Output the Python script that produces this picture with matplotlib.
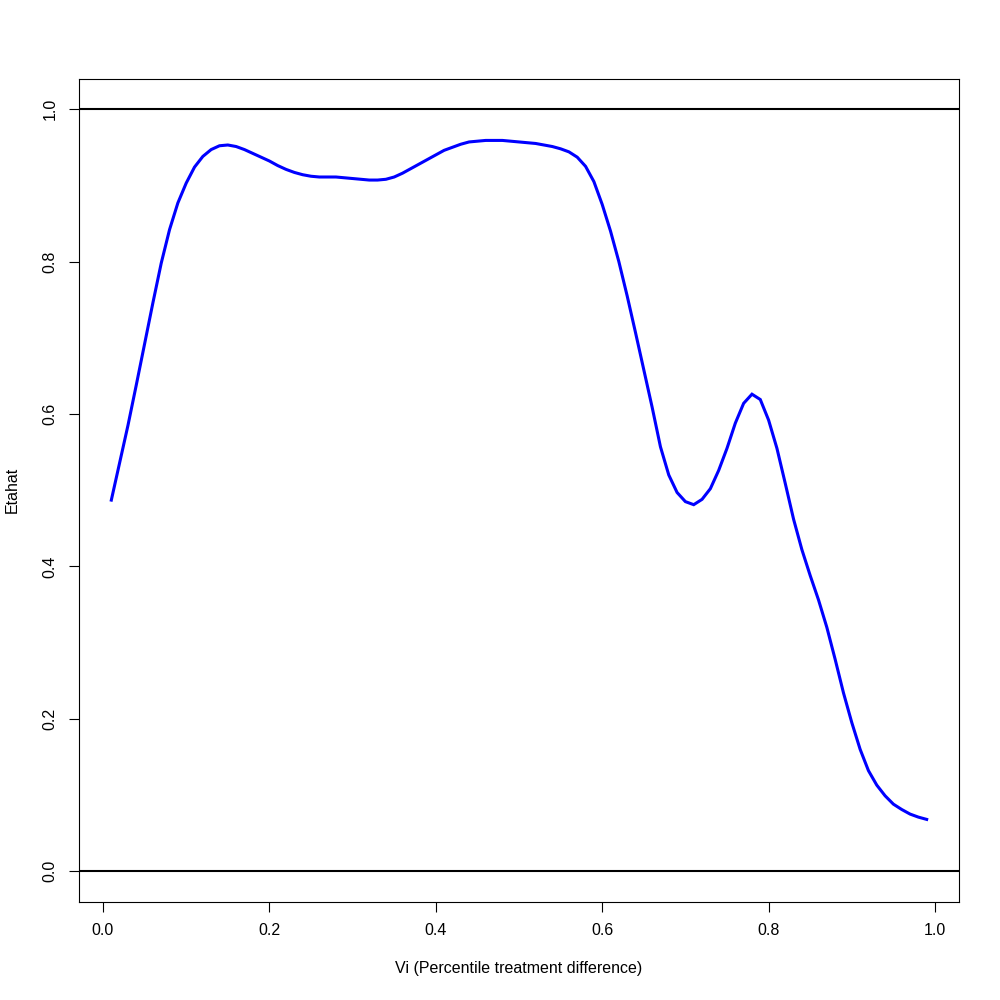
import numpy as np
import matplotlib
matplotlib.use("Agg")
import matplotlib.pyplot as plt

plt.rcParams["font.family"] = ["Liberation Sans", "DejaVu Sans"]

# percentile grid 0.01 .. 0.99
vi = np.arange(1, 100) / 100

etahat = [
    0.487, 0.536, 0.585, 0.638, 0.692, 0.746, 0.798, 0.842, 0.877, 0.903,
    0.924, 0.938, 0.947, 0.952, 0.953, 0.951, 0.947, 0.942, 0.937, 0.932,
    0.926, 0.921, 0.917, 0.914, 0.912, 0.911, 0.911, 0.911, 0.910, 0.909,
    0.908, 0.907, 0.907, 0.908, 0.911, 0.916, 0.922, 0.928, 0.934, 0.940,
    0.946, 0.950, 0.954, 0.957, 0.958, 0.959, 0.959, 0.959, 0.958, 0.957,
    0.956, 0.955, 0.953, 0.951, 0.948, 0.944, 0.937, 0.925, 0.905, 0.875,
    0.840, 0.800, 0.755, 0.707, 0.658, 0.609, 0.557, 0.520, 0.497, 0.485,
    0.481, 0.488, 0.502, 0.526, 0.555, 0.588, 0.614, 0.626, 0.619, 0.592,
    0.555, 0.509, 0.462, 0.422, 0.388, 0.356, 0.320, 0.278, 0.234, 0.195,
    0.160, 0.132, 0.113, 0.099, 0.088, 0.081, 0.075, 0.071, 0.068,
]

xticks = [0.0, 0.2, 0.4, 0.6, 0.8, 1.0]
yticks = [0.0, 0.2, 0.4, 0.6, 0.8, 1.0]

fig = plt.figure(figsize=(10, 10), dpi=100)
ax = fig.add_axes([0.0787, 0.0983, 0.8806, 0.823])

ax.plot(vi, etahat, color="blue", lw=2.2, solid_joinstyle="miter")
ax.axhline(1, color="black", lw=1.5)
ax.axhline(0, color="black", lw=1.5)

rng = vi[-1] - vi[0]
ax.set_xlim(vi[0] - 0.04 * rng, vi[-1] + 0.04 * rng)
ax.set_ylim(-0.04, 1.04)

ax.set_xticks(xticks)
ax.set_xticklabels([f"{t:.1f}" for t in xticks])
ax.set_yticks(yticks)
ax.set_yticklabels([f"{t:.1f}" for t in yticks], rotation=90, va="center")

ax.tick_params(direction="out", length=7, width=0.8, labelsize=11.5, pad=8)
for s in ax.spines.values():
    s.set_linewidth(0.8)

fig.text(0.519, 0.031, "Vi (Percentile treatment difference)", ha="center", va="center", fontsize=11.5)
fig.text(0.012, 0.51, "Etahat", ha="center", va="center", rotation=90, fontsize=11.5)

fig.savefig("out.png", dpi=100, facecolor="white")
